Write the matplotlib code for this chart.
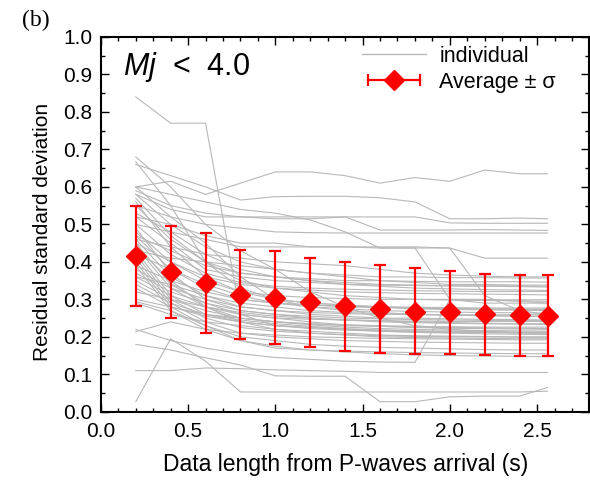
import matplotlib
matplotlib.use('Agg')
import matplotlib.pyplot as plt
from matplotlib.ticker import MultipleLocator
from matplotlib.lines import Line2D
from matplotlib.legend_handler import HandlerLine2D

plt.rcParams['font.family'] = ['Liberation Sans', 'DejaVu Sans']
plt.rcParams['mathtext.fontset'] = 'custom'
plt.rcParams['mathtext.it'] = 'Liberation Sans:italic'
plt.rcParams['mathtext.rm'] = 'Liberation Sans'

# data length (s)
x = [0.2, 0.4, 0.6, 0.8, 1.0, 1.2, 1.4, 1.6, 1.8, 2.0, 2.2, 2.4, 2.56]

# average and +/- sigma
avg = [0.415, 0.372, 0.343, 0.313, 0.305, 0.292, 0.281, 0.275, 0.267, 0.265, 0.260, 0.258, 0.256]
upper = [0.548, 0.497, 0.478, 0.432, 0.430, 0.410, 0.400, 0.393, 0.385, 0.375, 0.368, 0.365, 0.364]
lower = [0.283, 0.250, 0.210, 0.195, 0.180, 0.172, 0.162, 0.157, 0.155, 0.155, 0.152, 0.150, 0.148]

# individual events
individual = [
    [0.84, 0.77, 0.77, 0.26, 0.23, 0.225, 0.22, 0.218, 0.216, 0.215, 0.214, 0.213, 0.213],
    [0.027, 0.195, 0.135, 0.053, 0.053, 0.053, 0.053, 0.053, 0.053, 0.053, 0.053, 0.053, 0.055],
    [0.60, 0.615, 0.58, 0.61, 0.64, 0.64, 0.63, 0.61, 0.625, 0.615, 0.645, 0.635, 0.635],
    [0.66, 0.63, 0.60, 0.565, 0.574, 0.575, 0.575, 0.571, 0.56, 0.515, 0.515, 0.517, 0.515],
    [0.60, 0.58, 0.56, 0.54, 0.53, 0.512, 0.48, 0.437, 0.437, 0.437, 0.41, 0.41, 0.41],
    [0.18, 0.165, 0.144, 0.125, 0.096, 0.095, 0.095, 0.027, 0.027, 0.04, 0.042, 0.042, 0.065],
    [0.11, 0.11, 0.117, 0.115, 0.112, 0.11, 0.108, 0.105, 0.105, 0.105, 0.105, 0.105, 0.105],
    [0.59, 0.55, 0.53, 0.52, 0.52, 0.52, 0.52, 0.52, 0.52, 0.504, 0.503, 0.503, 0.503],
    [0.58, 0.54, 0.52, 0.52, 0.515, 0.515, 0.52, 0.485, 0.485, 0.485, 0.486, 0.485, 0.484],
    [0.55, 0.52, 0.50, 0.49, 0.48, 0.478, 0.477, 0.477, 0.477, 0.477, 0.477, 0.477, 0.477],
    [0.52, 0.50, 0.47, 0.45, 0.45, 0.44, 0.44, 0.437, 0.437, 0.30, 0.29, 0.29, 0.29],
    [0.50, 0.48, 0.46, 0.44, 0.44, 0.44, 0.44, 0.44, 0.44, 0.437, 0.31, 0.27, 0.26],
    [0.22, 0.19, 0.17, 0.155, 0.145, 0.14, 0.135, 0.133, 0.132, 0.30, 0.30, 0.295, 0.29],
    [0.58, 0.50, 0.44, 0.40, 0.38, 0.37, 0.365, 0.36, 0.36, 0.358, 0.358, 0.357, 0.357],
    [0.55, 0.46, 0.40, 0.37, 0.36, 0.355, 0.35, 0.35, 0.348, 0.347, 0.347, 0.347, 0.346],
    [0.52, 0.45, 0.38, 0.36, 0.35, 0.345, 0.34, 0.338, 0.337, 0.336, 0.336, 0.336, 0.335],
    [0.50, 0.42, 0.37, 0.345, 0.335, 0.33, 0.327, 0.325, 0.323, 0.322, 0.321, 0.321, 0.321],
    [0.48, 0.40, 0.35, 0.32, 0.31, 0.305, 0.302, 0.30, 0.30, 0.30, 0.299, 0.299, 0.299],
    [0.47, 0.38, 0.33, 0.30, 0.29, 0.285, 0.282, 0.28, 0.279, 0.278, 0.277, 0.277, 0.277],
    [0.46, 0.36, 0.31, 0.28, 0.27, 0.265, 0.262, 0.26, 0.26, 0.259, 0.259, 0.259, 0.259],
    [0.45, 0.34, 0.29, 0.26, 0.25, 0.247, 0.245, 0.243, 0.242, 0.241, 0.241, 0.241, 0.241],
    [0.44, 0.33, 0.28, 0.25, 0.24, 0.235, 0.232, 0.23, 0.228, 0.227, 0.226, 0.226, 0.226],
    [0.43, 0.31, 0.26, 0.24, 0.23, 0.222, 0.218, 0.215, 0.213, 0.212, 0.211, 0.211, 0.211],
    [0.42, 0.30, 0.25, 0.225, 0.215, 0.21, 0.206, 0.203, 0.201, 0.20, 0.20, 0.199, 0.199],
    [0.41, 0.29, 0.24, 0.21, 0.20, 0.195, 0.19, 0.188, 0.186, 0.185, 0.184, 0.183, 0.183],
    [0.40, 0.28, 0.23, 0.20, 0.19, 0.18, 0.175, 0.172, 0.17, 0.168, 0.166, 0.165, 0.165],
    [0.39, 0.27, 0.22, 0.19, 0.175, 0.165, 0.16, 0.155, 0.152, 0.15, 0.149, 0.148, 0.147],
    [0.38, 0.33, 0.30, 0.28, 0.27, 0.26, 0.255, 0.25, 0.25, 0.248, 0.247, 0.246, 0.245],
    [0.37, 0.32, 0.29, 0.27, 0.26, 0.25, 0.245, 0.24, 0.238, 0.236, 0.235, 0.234, 0.233],
    [0.36, 0.31, 0.28, 0.26, 0.25, 0.24, 0.232, 0.228, 0.225, 0.223, 0.222, 0.221, 0.22],
    [0.35, 0.30, 0.27, 0.25, 0.24, 0.232, 0.226, 0.222, 0.22, 0.218, 0.217, 0.216, 0.215],
    [0.34, 0.29, 0.26, 0.245, 0.235, 0.228, 0.222, 0.218, 0.215, 0.213, 0.212, 0.211, 0.21],
    [0.33, 0.28, 0.255, 0.24, 0.23, 0.225, 0.22, 0.215, 0.212, 0.21, 0.208, 0.207, 0.206],
    [0.32, 0.30, 0.28, 0.265, 0.255, 0.25, 0.245, 0.243, 0.24, 0.238, 0.236, 0.235, 0.235],
    [0.30, 0.28, 0.26, 0.25, 0.24, 0.235, 0.23, 0.228, 0.226, 0.225, 0.224, 0.223, 0.222],
    [0.29, 0.26, 0.24, 0.23, 0.22, 0.215, 0.21, 0.205, 0.203, 0.202, 0.201, 0.20, 0.20],
    [0.45, 0.40, 0.36, 0.34, 0.33, 0.325, 0.32, 0.318, 0.316, 0.315, 0.314, 0.313, 0.312],
    [0.53, 0.48, 0.42, 0.38, 0.36, 0.35, 0.345, 0.34, 0.338, 0.336, 0.335, 0.334, 0.333],
    [0.47, 0.43, 0.39, 0.37, 0.36, 0.35, 0.34, 0.335, 0.33, 0.328, 0.326, 0.325, 0.324],
    [0.56, 0.44, 0.36, 0.32, 0.30, 0.29, 0.285, 0.28, 0.278, 0.276, 0.275, 0.274, 0.274],
    [0.49, 0.37, 0.30, 0.27, 0.26, 0.255, 0.25, 0.248, 0.246, 0.245, 0.244, 0.244, 0.243],
    [0.44, 0.35, 0.28, 0.24, 0.22, 0.21, 0.205, 0.20, 0.198, 0.197, 0.196, 0.195, 0.195],
    [0.42, 0.38, 0.34, 0.31, 0.29, 0.28, 0.275, 0.27, 0.268, 0.266, 0.265, 0.264, 0.263],
    [0.39, 0.35, 0.32, 0.30, 0.29, 0.285, 0.28, 0.278, 0.276, 0.275, 0.274, 0.273, 0.273],
    [0.36, 0.34, 0.31, 0.29, 0.28, 0.27, 0.265, 0.262, 0.26, 0.258, 0.256, 0.255, 0.254],
    [0.214, 0.24, 0.22, 0.21, 0.205, 0.20, 0.198, 0.196, 0.195, 0.194, 0.193, 0.192, 0.192],
    [0.294, 0.27, 0.23, 0.19, 0.17, 0.165, 0.162, 0.16, 0.158, 0.157, 0.156, 0.155, 0.155],
    [0.60, 0.52, 0.45, 0.36, 0.30, 0.28, 0.27, 0.265, 0.26, 0.258, 0.257, 0.256, 0.255],
    [0.68, 0.60, 0.50, 0.43, 0.38, 0.32, 0.28, 0.25, 0.23, 0.22, 0.215, 0.21, 0.21],
    [0.57, 0.47, 0.40, 0.35, 0.33, 0.32, 0.31, 0.305, 0.30, 0.298, 0.297, 0.296, 0.295],
    [0.46, 0.44, 0.42, 0.41, 0.40, 0.395, 0.39, 0.38, 0.37, 0.365, 0.362, 0.36, 0.36],
    [0.43, 0.41, 0.40, 0.39, 0.38, 0.37, 0.36, 0.35, 0.345, 0.34, 0.34, 0.338, 0.338],
    [0.667, 0.55, 0.40, 0.33, 0.30, 0.29, 0.285, 0.28, 0.275, 0.273, 0.272, 0.271, 0.27],
]

fig = plt.figure(figsize=(5.9, 4.8), dpi=100)
ax = fig.add_axes([0.171, 0.142, 0.828, 0.781])

gray = '#b8b8b8'
for y in individual:
    ax.plot(x, y, color=gray, lw=0.8, zorder=1)

yerr = [[a - l for a, l in zip(avg, lower)], [u - a for a, u in zip(avg, upper)]]
ax.errorbar(x, avg, yerr=yerr, fmt='D', color='red', ms=10, elinewidth=1.6,
            capsize=4, capthick=1.6, zorder=3)

ax.set_xlim(0, 2.8)
ax.set_ylim(0, 1.0)
ax.xaxis.set_major_locator(MultipleLocator(0.5))
ax.xaxis.set_minor_locator(MultipleLocator(0.1))
ax.yaxis.set_major_locator(MultipleLocator(0.1))
ax.yaxis.set_minor_locator(MultipleLocator(0.05))
ax.tick_params(which='both', direction='in', top=True, right=True, labelsize=15)
ax.tick_params(axis='x', pad=7)
ax.tick_params(axis='y', pad=6)
ax.tick_params(which='major', length=6, width=1)
ax.tick_params(which='minor', length=3, width=1)
for s in ax.spines.values():
    s.set_linewidth(1.5)

ax.set_xlabel('Data length from P-waves arrival (s)', fontsize=16.5, labelpad=9)
ax.set_ylabel('Residual standard deviation', fontsize=15)
ax.yaxis.set_label_coords(-0.1, 0.48)

ax.text(0.045, 0.965, '$Mj$  <  4.0', transform=ax.transAxes, fontsize=22, va='top', ha='left')
fig.text(0.037, 0.957, '(b)', family='Liberation Serif', fontsize=17, va='center', ha='left')

# legend handles: gray line, and a horizontal error bar with a diamond
h_ind = Line2D([], [], color=gray, lw=1.0)
h_bar = Line2D([], [], color='red', lw=1.6, marker='|', ms=9, mew=1.6)
h_dia = Line2D([], [], color='red', ls='none', marker='D', ms=10)
ax.legend([h_ind, (h_bar, h_dia)], ['individual', 'Average ± σ'],
          handler_map={h_bar: HandlerLine2D(numpoints=2), h_dia: HandlerLine2D(numpoints=1)},
          loc='upper left', bbox_to_anchor=(0.534, 0.976), frameon=False, fontsize=15.5,
          handlelength=3.0, handletextpad=0.6, labelspacing=0.22, borderpad=0, borderaxespad=0)

fig.savefig('out.png', dpi=100)
